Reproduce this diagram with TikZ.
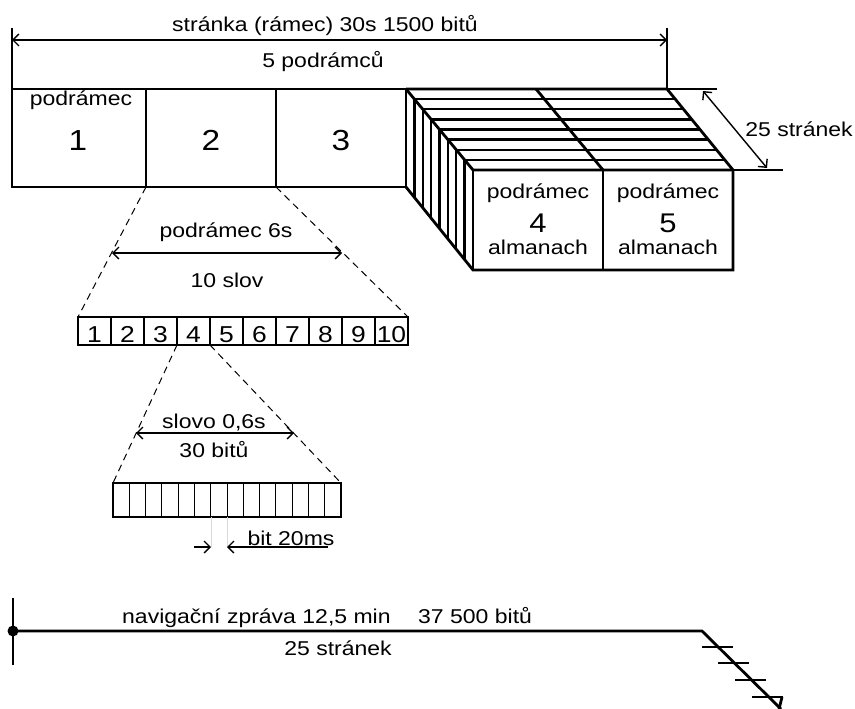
\documentclass[tikz,border=0pt]{standalone}
\usepackage{fontspec}
\setmainfont{Liberation Sans}[FakeStretch=1.15]
\usetikzlibrary{arrows.meta}
\begin{document}
\begin{tikzpicture}[x=1pt,y=-1pt,
  thickline/.style={line width=2.8pt, line join=miter},
  thinline/.style={line width=1.3pt},
  slat/.style={line width=2.3pt},
  dim/.style={line width=1.4pt,{Straight Barb[length=6pt,width=12pt]}-{Straight Barb[length=6pt,width=12pt]}},
  onearrow/.style={line width=1.4pt,-{Straight Barb[length=6pt,width=12pt]}},
  dashline/.style={line width=1pt, dash pattern=on 7pt off 5pt},
  lbl/.style={font=\fontsize{20}{24}\selectfont, inner sep=0pt, anchor=base},
  big/.style={font=\fontsize{29}{33}\selectfont, inner sep=0pt, anchor=base},
  mid/.style={font=\fontsize{27}{30}\selectfont, inner sep=0pt, anchor=base},
  cell/.style={font=\fontsize{23}{26}\selectfont, inner sep=0pt, anchor=base},
]
\useasboundingbox (0,0) rectangle (855,709);

% ---------- top dimension ----------
\coordinate (tl) at (12,40);
\coordinate (tr) at (667,40);
\draw[thinline] (12,28) -- (12,89);
\draw[thinline] (667,28) -- (667,89);
\draw[dim] (tl) -- (tr);
\node[lbl] (frame) at (325,32) {stránka (rámec) 30s 1500 bitů};
\node[lbl] (five) at (323,68) {5 podrámců};

% ---------- subframes 1-3 ----------
\draw[thickline] (12,89) rectangle (406,187);
\draw[thickline] (146,89) -- (146,187);
\draw[thickline] (276,89) -- (276,187);
\node[lbl] (p1) at (81,106) {podrámec};
\node[big] (n1) at (78,150) {1};
\node[big] (n2) at (211,150) {2};
\node[big] (n3) at (341,150) {3};

% ---------- 3D block (subframes 4,5 x 25 pages) ----------
\foreach \i in {1,...,7} {
  \pgfmathsetmacro\t{\i/8}
  \draw[slat] ({406+67*\t},{89+81*\t}) -- ({667+66*\t},{89+81*\t});
  \draw[slat] ({406+67*\t},{89+81*\t}) -- ({406+67*\t},{187+83*\t});
}
\draw[thickline] (406,89) -- (667,89) -- (733,170) -- (733,270) -- (473,270) -- (406,187);
\draw[thickline] (406,89) -- (473,170) -- (733,170);
\draw[thickline] (473,170) -- (473,270);
\draw[thickline] (603,170) -- (603,270);
\draw[thickline] (536,89) -- (603,170);
\node[lbl] (p4) at (538,198) {podrámec};
\node[mid] (n4) at (538,232) {4};
\node[lbl] (a4) at (538,254) {almanach};
\node[lbl] (p5) at (668,198) {podrámec};
\node[mid] (n5) at (668,232) {5};
\node[lbl] (a5) at (668,254) {almanach};

% ---------- 25 pages dimension ----------
\draw[thinline] (667,89) -- (717,89);
\draw[thinline] (733,170) -- (783,170);
\coordinate (pa) at (703,91);
\coordinate (pb) at (767,168);
\draw[dim] (pa) -- (pb);
\node[lbl] (pages) at (799,136) {25 stránek};

% ---------- subframe -> 10 words ----------
\coordinate (s2l) at (146,187);
\coordinate (s2r) at (276,187);
\coordinate (wl) at (78,317);
\coordinate (wr) at (408,317);
\draw[dashline] (s2l) -- (wl);
\draw[dashline] (s2r) -- (wr);
\coordinate (d1) at (112,253);
\coordinate (d2) at (342,253);
\draw[dim] (d1) -- (d2);
\node[lbl] (sub6) at (226,237) {podrámec 6s};
\node[lbl] (ten) at (227,287) {10 slov};

\draw[thickline] (78,317) rectangle (408,345);
\foreach \k in {1,...,9} \draw[thickline] ({78+33*\k},317) -- ({78+33*\k},345);
\foreach \k in {1,...,10} \node[cell] (c\k) at ({78+33*\k-16.5},342) {\k};

% ---------- word -> 30 bits ----------
\coordinate (w4l) at (177,345);
\coordinate (w4r) at (210,345);
\coordinate (bl) at (113,483);
\coordinate (br) at (341,483);
\draw[dashline] (w4l) -- (bl);
\draw[dashline] (w4r) -- (br);
\coordinate (e1) at (136,433);
\coordinate (e2) at (294,433);
\draw[dim] (e1) -- (e2);
\node[lbl] (word) at (214,428) {slovo 0,6s};
\node[lbl] (thirty) at (214,457) {30 bitů};

\foreach \k in {1,...,13} \draw[line width=0.9pt] ({113+228/14*\k},483) -- ({113+228/14*\k},517);
\draw[thickline] (113,483) rectangle (341,517);

% bit width
\draw[line width=0.5pt, gray!30] (211,517) -- (211,547);
\draw[line width=0.5pt, gray!30] (227,517) -- (227,547);
\coordinate (ba0) at (194,547);
\coordinate (ba1) at (211,547);
\coordinate (bb0) at (328,547);
\coordinate (bb1) at (227,547);
\draw[onearrow] (ba0) -- (ba1);
\draw[onearrow] (bb0) -- (bb1);
\node[lbl] (bit) at (291,545) {bit 20ms};

% ---------- navigation message ----------
\coordinate (m0) at (13,631);
\coordinate (m1) at (702,631);
\coordinate (m2) at (781,709);
\draw[thinline] (13,598) -- (13,665);
\fill (m0) circle (5.5pt);
\draw[thickline] (m0) -- (m1) -- (m2);
\foreach \y in {647,663,680,697} \draw[thickline] ({702+\y-631-16},\y) -- ({702+\y-631+15},\y);
\draw[thickline] (782,697) -- (779,709);
\node[lbl, anchor=base west] (nav) at (122,623) {navigační zpráva 12,5 min};
\node[lbl, anchor=base west] (bits) at (418,623) {37 500 bitů};
\node[lbl] (pages2) at (338,655) {25 stránek};
\end{tikzpicture}
\end{document}
